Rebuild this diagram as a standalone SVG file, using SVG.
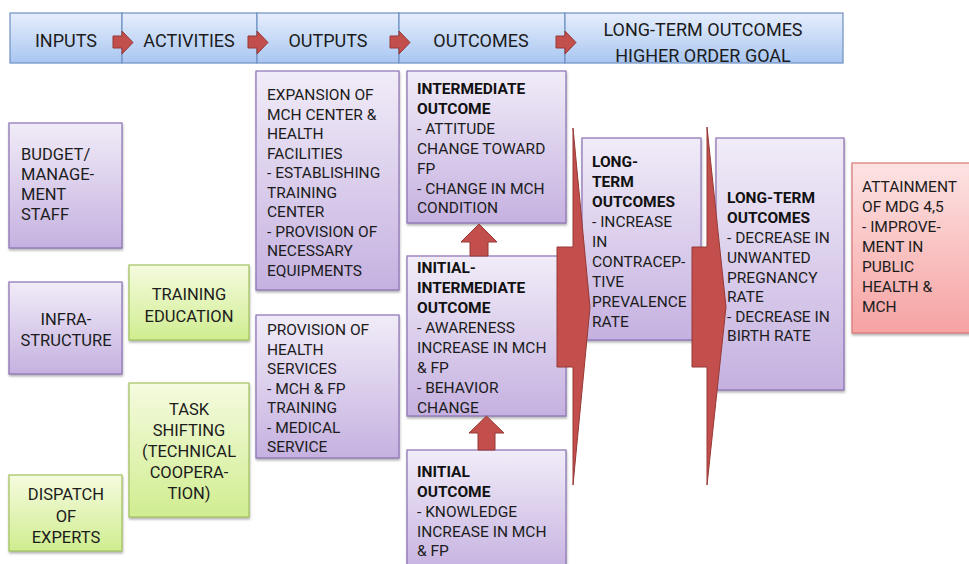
<svg xmlns="http://www.w3.org/2000/svg" width="969" height="564" viewBox="0 0 969 564">
<defs>
<linearGradient id="gHead" x1="0" y1="0" x2="0" y2="1"><stop offset="0" stop-color="#e6eefc"/><stop offset="1" stop-color="#a9c6f1"/></linearGradient>
<linearGradient id="gPur" x1="0" y1="0" x2="0" y2="1"><stop offset="0" stop-color="#f1ecf8"/><stop offset="1" stop-color="#c5b1e0"/></linearGradient>
<linearGradient id="gGrn" x1="0" y1="0" x2="0" y2="1"><stop offset="0" stop-color="#f5fbdf"/><stop offset="1" stop-color="#d0ed90"/></linearGradient>
<linearGradient id="gRed" x1="0" y1="0" x2="0" y2="1"><stop offset="0" stop-color="#fde3e3"/><stop offset="1" stop-color="#f6a2a2"/></linearGradient>
<filter id="sh" x="-10%" y="-10%" width="120%" height="120%"><feDropShadow dx="0.5" dy="2" stdDeviation="0.8" flood-color="#777" flood-opacity="0.55"/></filter>
</defs>
<style>
.hd{fill:url(#gHead);stroke:#6f90c2;stroke-width:1.2}
.pu{fill:url(#gPur);stroke:#8a70b4;stroke-width:1.2;filter:url(#sh)}
.gr{fill:url(#gGrn);stroke:#a2c25c;stroke-width:1.2;filter:url(#sh)}
.rd{fill:url(#gRed);stroke:#d97777;stroke-width:1.2;filter:url(#sh)}
text{font-family:Roboto,"Liberation Sans",Arial,sans-serif;fill:#1c1c1c}
.ht{font-size:18px;text-anchor:middle}
.lt{font-size:16.5px}
.c{text-anchor:middle}
.bt{font-size:15.5px}
.b{font-weight:bold;fill:#111}
.ar{fill:#c24f4c;stroke:#963936;stroke-width:1}
</style>
<rect width="969" height="564" fill="#ffffff"/>

<g id="header">
<rect class="hd" x="10" y="13" width="112" height="50"/>
<rect class="hd" x="122" y="13" width="135" height="50"/>
<rect class="hd" x="257" y="13" width="142" height="50"/>
<rect class="hd" x="399" y="13" width="166" height="50"/>
<rect class="hd" x="565" y="13" width="278" height="50"/>
<text class="ht" x="66" y="47">INPUTS</text>
<text class="ht" x="189" y="47">ACTIVITIES</text>
<text class="ht" x="328" y="47">OUTPUTS</text>
<text class="ht" x="481" y="47">OUTCOMES</text>
<text class="ht" x="703" y="36">LONG-TERM OUTCOMES</text>
<text class="ht" x="703" y="62">HIGHER ORDER GOAL</text>
</g>

<g id="budget">
<rect class="pu" x="9" y="123" width="113" height="125"/>
<text class="lt" x="21" y="160">BUDGET/</text>
<text class="lt" x="21" y="180">MANAGE-</text>
<text class="lt" x="21" y="200">MENT</text>
<text class="lt" x="21" y="220">STAFF</text>
</g>

<g id="infrastructure">
<rect class="pu" x="9" y="282" width="113" height="92"/>
<text class="lt c" x="66" y="325">INFRA-</text>
<text class="lt c" x="66" y="346">STRUCTURE</text>
</g>

<g id="dispatch">
<rect class="gr" x="9" y="475" width="113" height="76"/>
<text class="lt c" x="66" y="500">DISPATCH</text>
<text class="lt c" x="66" y="522">OF</text>
<text class="lt c" x="66" y="543">EXPERTS</text>
</g>

<g id="training">
<rect class="gr" x="129" y="265" width="120" height="75"/>
<text class="lt c" x="189" y="300">TRAINING</text>
<text class="lt c" x="189" y="322">EDUCATION</text>
</g>

<g id="taskshifting">
<rect class="gr" x="129" y="383" width="120" height="134"/>
<text class="lt c" x="189" y="415">TASK</text>
<text class="lt c" x="189" y="436">SHIFTING</text>
<text class="lt c" x="189" y="457">(TECHNICAL</text>
<text class="lt c" x="189" y="478">COOPERA-</text>
<text class="lt c" x="189" y="499">TION)</text>
</g>

<g id="expansion">
<rect class="pu" x="256" y="71" width="143" height="219"/>
<text class="bt" x="267" y="100">EXPANSION OF</text>
<text class="bt" x="267" y="119.5">MCH CENTER &amp;</text>
<text class="bt" x="267" y="139">HEALTH</text>
<text class="bt" x="267" y="158.5">FACILITIES</text>
<text class="bt" x="267" y="178">- ESTABLISHING</text>
<text class="bt" x="267" y="197.5">TRAINING</text>
<text class="bt" x="267" y="217">CENTER</text>
<text class="bt" x="267" y="236.5">- PROVISION OF</text>
<text class="bt" x="267" y="256">NECESSARY</text>
<text class="bt" x="267" y="275.5">EQUIPMENTS</text>
</g>

<g id="provision">
<rect class="pu" x="256" y="315" width="143" height="143"/>
<text class="bt" x="267" y="335">PROVISION OF</text>
<text class="bt" x="267" y="354.5">HEALTH</text>
<text class="bt" x="267" y="374">SERVICES</text>
<text class="bt" x="267" y="393.5">- MCH &amp; FP</text>
<text class="bt" x="267" y="413">TRAINING</text>
<text class="bt" x="267" y="432.5">- MEDICAL</text>
<text class="bt" x="267" y="452">SERVICE</text>
</g>

<g id="intermediate">
<rect class="pu" x="407" y="71" width="159" height="152"/>
<text class="bt b" x="417" y="94">INTERMEDIATE</text>
<text class="bt b" x="417" y="114">OUTCOME</text>
<text class="bt" x="417" y="134">- ATTITUDE</text>
<text class="bt" x="417" y="154">CHANGE TOWARD</text>
<text class="bt" x="417" y="173.5">FP</text>
<text class="bt" x="417" y="193.5">- CHANGE IN MCH</text>
<text class="bt" x="417" y="213">CONDITION</text>
</g>

<g id="initial-intermediate">
<rect class="pu" x="407" y="256" width="159" height="160"/>
<text class="bt b" x="417" y="273">INITIAL-</text>
<text class="bt b" x="417" y="293">INTERMEDIATE</text>
<text class="bt b" x="417" y="313">OUTCOME</text>
<text class="bt" x="417" y="333">- AWARENESS</text>
<text class="bt" x="417" y="353">INCREASE IN MCH</text>
<text class="bt" x="417" y="373">&amp; FP</text>
<text class="bt" x="417" y="393">- BEHAVIOR</text>
<text class="bt" x="417" y="413">CHANGE</text>
</g>

<g id="initial">
<rect class="pu" x="407" y="450" width="159" height="124"/>
<text class="bt b" x="417" y="477">INITIAL</text>
<text class="bt b" x="417" y="497">OUTCOME</text>
<text class="bt" x="417" y="517">- KNOWLEDGE</text>
<text class="bt" x="417" y="536.5">INCREASE IN MCH</text>
<text class="bt" x="417" y="556">&amp; FP</text>
</g>

<g id="longterm1">
<rect class="pu" x="582" y="138" width="119" height="202"/>
<text class="bt b" x="592" y="167">LONG-</text>
<text class="bt b" x="592" y="187">TERM</text>
<text class="bt b" x="592" y="207">OUTCOMES</text>
<text class="bt" x="592" y="227">- INCREASE</text>
<text class="bt" x="592" y="247">IN</text>
<text class="bt" x="592" y="267">CONTRACEP-</text>
<text class="bt" x="592" y="286.5">TIVE</text>
<text class="bt" x="592" y="306.5">PREVALENCE</text>
<text class="bt" x="592" y="326.5">RATE</text>
</g>

<g id="longterm2">
<rect class="pu" x="716" y="138" width="128" height="252"/>
<text class="bt b" x="727" y="203">LONG-TERM</text>
<text class="bt b" x="727" y="223">OUTCOMES</text>
<text class="bt" x="727" y="243">- DECREASE IN</text>
<text class="bt" x="727" y="263">UNWANTED</text>
<text class="bt" x="727" y="282.5">PREGNANCY</text>
<text class="bt" x="727" y="302">RATE</text>
<text class="bt" x="727" y="322">- DECREASE IN</text>
<text class="bt" x="727" y="341">BIRTH RATE</text>
</g>

<g id="attainment">
<rect class="rd" x="852" y="163" width="125" height="170"/>
<text class="bt" x="862" y="192">ATTAINMENT</text>
<text class="bt" x="862" y="212">OF MDG 4,5</text>
<text class="bt" x="862" y="232">- IMPROVE-</text>
<text class="bt" x="862" y="252">MENT IN</text>
<text class="bt" x="862" y="272">PUBLIC</text>
<text class="bt" x="862" y="292">HEALTH &amp;</text>
<text class="bt" x="862" y="312">MCH</text>
</g>

<g id="connectors">
<polygon class="ar" points="113,36 122,36 122,31 133,42.5 122,54 122,48 113,48"/>
<polygon class="ar" points="248,36 257,36 257,31 268,42.5 257,54 257,48 248,48"/>
<polygon class="ar" points="390,36 399,36 399,31 410,42.5 399,54 399,48 390,48"/>
<polygon class="ar" points="556,36 565,36 565,31 576,42.5 565,54 565,48 556,48"/>
<polygon class="ar" points="479,224 497,242 488,242 488,256 470,256 470,242 461,242"/>
<polygon class="ar" points="486.5,416 504,433 495,433 495,450 478,450 478,433 469,433"/>
<polygon class="ar" points="557,247 573,247 573,128 590,307 573,485 573,367 557,367"/>
<polygon class="ar" points="692,247 707,247 707,127 726,307 707,485 707,367 692,367"/>
</g>
</svg>
